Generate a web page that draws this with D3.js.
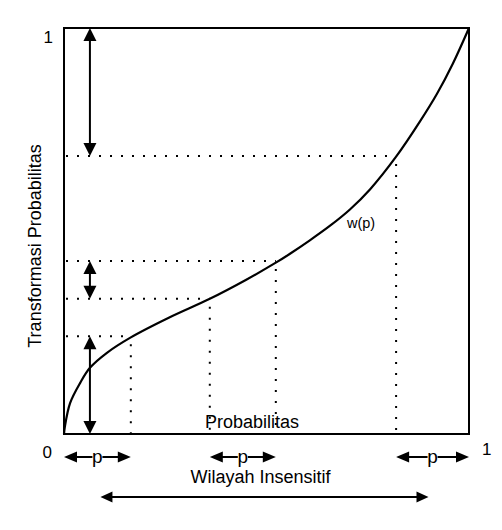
<!DOCTYPE html>
<html>
<head>
<meta charset="utf-8">
<script src="https://cdn.jsdelivr.net/npm/d3@7"></script>
<style>
  body { margin: 0; background: #fff; }
  text { font-family: Arial, "Liberation Sans", sans-serif; fill: #000; }
</style>
</head>
<body>
<svg id="chart" width="502" height="530"></svg>
<script>
// curve w(p)
const pValues = [0, 0.002, 0.015, 0.040, 0.064, 0.106, 0.165, 0.26, 0.36, 0.45, 0.523, 0.558, 0.607, 0.657, 0.706, 0.756, 0.82, 0.879, 0.921, 0.960, 1];
const wValues = [0, 0.017, 0.076, 0.126, 0.163, 0.200, 0.238, 0.287, 0.333, 0.380, 0.422, 0.444, 0.477, 0.513, 0.553, 0.603, 0.683, 0.770, 0.838, 0.912, 1];

// points marked with dotted guides
const markP = [0.165, 0.36, 0.523, 0.82];
const markW = [0.241, 0.333, 0.426, 0.685];

// intervals shown by arrows
const pIntervals = [[0, 0.165], [0.36, 0.523], [0.82, 1]];
const wIntervals = [[0, 0.241], [0.333, 0.426], [0.685, 1]];
const insensitive = [0.09, 0.9];
const wArrowAt = 0.064;

const tickLabels = ["0", "1"];
const xTitle = "Probabilitas";
const yTitle = "Transformasi Probabilitas";
const curveLabel = "w(p)";
const regionLabel = "Wilayah Insensitif";
const intervalLabel = "p";

const svg = d3.select("#chart");

const x = d3.scaleLinear().domain([0, 1]).range([64, 469]);
const y = d3.scaleLinear().domain([0, 1]).range([434, 28]);

const curveData = pValues.map((p, i) => ({ p: p, w: wValues[i] }));
const marks = markP.map((p, i) => ({ p: p, w: markW[i] }));

// little helper for filled triangle heads, tip at (tx,ty)
function head(g, tx, ty, dx, dy, len, wid) {
    const bx = tx - dx * len, by = ty - dy * len;
    const px = -dy * wid / 2, py = dx * wid / 2;
    g.append("path")
        .attr("d", `M${tx},${ty}L${bx + px},${by + py}L${bx - px},${by - py}Z`)
        .attr("fill", "#000");
}

// dotted guides
const guides = svg.append("g")
    .attr("stroke", "#000")
    .attr("stroke-width", 2)
    .attr("stroke-dasharray", "2 9");

guides.selectAll("line.h")
    .data(marks)
    .join("line")
    .attr("class", "h")
    .attr("x1", x(0) + 2)
    .attr("x2", d => x(d.p))
    .attr("y1", d => y(d.w))
    .attr("y2", d => y(d.w));

guides.selectAll("line.v")
    .data(marks)
    .join("line")
    .attr("class", "v")
    .attr("x1", d => x(d.p))
    .attr("x2", d => x(d.p))
    .attr("y1", d => y(d.w) + 8)
    .attr("y2", y(0));

// frame
svg.append("rect")
    .attr("x", x(0))
    .attr("y", y(1))
    .attr("width", x(1) - x(0))
    .attr("height", y(0) - y(1))
    .attr("fill", "none")
    .attr("stroke", "#000")
    .attr("stroke-width", 2);

// the curve
const line = d3.line()
    .x(d => x(d.p))
    .y(d => y(d.w))
    .curve(d3.curveCatmullRom.alpha(0.5));

svg.append("path")
    .datum(curveData)
    .attr("d", line)
    .attr("fill", "none")
    .attr("stroke", "#000")
    .attr("stroke-width", 2.2);

// vertical double arrows
const vArrows = svg.append("g");
wIntervals.forEach(([a, b]) => {
    const ax = x(wArrowAt), y1 = y(b), y2 = y(a);
    vArrows.append("line")
        .attr("x1", ax).attr("x2", ax)
        .attr("y1", y1 + 10).attr("y2", y2 - 10)
        .attr("stroke", "#000").attr("stroke-width", 2);
    head(vArrows, ax, y1, 0, -1, 13, 13);
    head(vArrows, ax, y2, 0, 1, 13, 13);
});

// p arrows below the axis
const pArrows = svg.append("g");
const pY = 457;
pIntervals.forEach(([a, b]) => {
    const x1 = x(a), x2 = x(b), mid = (x1 + x2) / 2;
    pArrows.append("line")
        .attr("x1", x1 + 10).attr("x2", mid - 5)
        .attr("y1", pY).attr("y2", pY)
        .attr("stroke", "#000").attr("stroke-width", 2);
    pArrows.append("line")
        .attr("x1", mid + 5).attr("x2", x2 - 10)
        .attr("y1", pY).attr("y2", pY)
        .attr("stroke", "#000").attr("stroke-width", 2);
    head(pArrows, x1, pY, -1, 0, 13, 11);
    head(pArrows, x2, pY, 1, 0, 13, 11);
    pArrows.append("text")
        .attr("x", mid)
        .attr("y", pY + 6)
        .attr("text-anchor", "middle")
        .attr("font-size", 19)
        .text(intervalLabel);
});

// insensitive region arrow
const rY = 497;
svg.append("line")
    .attr("x1", x(insensitive[0]) + 10).attr("x2", x(insensitive[1]) - 10)
    .attr("y1", rY).attr("y2", rY)
    .attr("stroke", "#000").attr("stroke-width", 2);
head(svg, x(insensitive[0]), rY, -1, 0, 12, 11);
head(svg, x(insensitive[1]), rY, 1, 0, 12, 11);

// texts
svg.append("text")
    .attr("x", x(0) - 11).attr("y", y(1) + 15)
    .attr("text-anchor", "end")
    .attr("font-size", 17)
    .text(tickLabels[1]);

svg.append("text")
    .attr("x", x(0) - 12).attr("y", y(0) + 24)
    .attr("text-anchor", "end")
    .attr("font-size", 17)
    .text(tickLabels[0]);

svg.append("text")
    .attr("x", x(1) + 13).attr("y", y(0) + 21)
    .attr("font-size", 17)
    .text(tickLabels[1]);

svg.append("text")
    .attr("transform", `translate(41,${(y(0) + y(1)) / 2 + 15}) rotate(-90)`)
    .attr("text-anchor", "middle")
    .attr("font-size", 18)
    .text(yTitle);

svg.append("text")
    .attr("x", 205).attr("y", 428)
    .attr("font-size", 18)
    .text(xTitle);

svg.append("text")
    .attr("x", 347).attr("y", 228)
    .attr("font-size", 14.5)
    .text(curveLabel);

svg.append("text")
    .attr("x", (x(insensitive[0]) + x(insensitive[1])) / 2 - 4).attr("y", 483)
    .attr("text-anchor", "middle")
    .attr("font-size", 18)
    .text(regionLabel);
</script>
</body>
</html>
